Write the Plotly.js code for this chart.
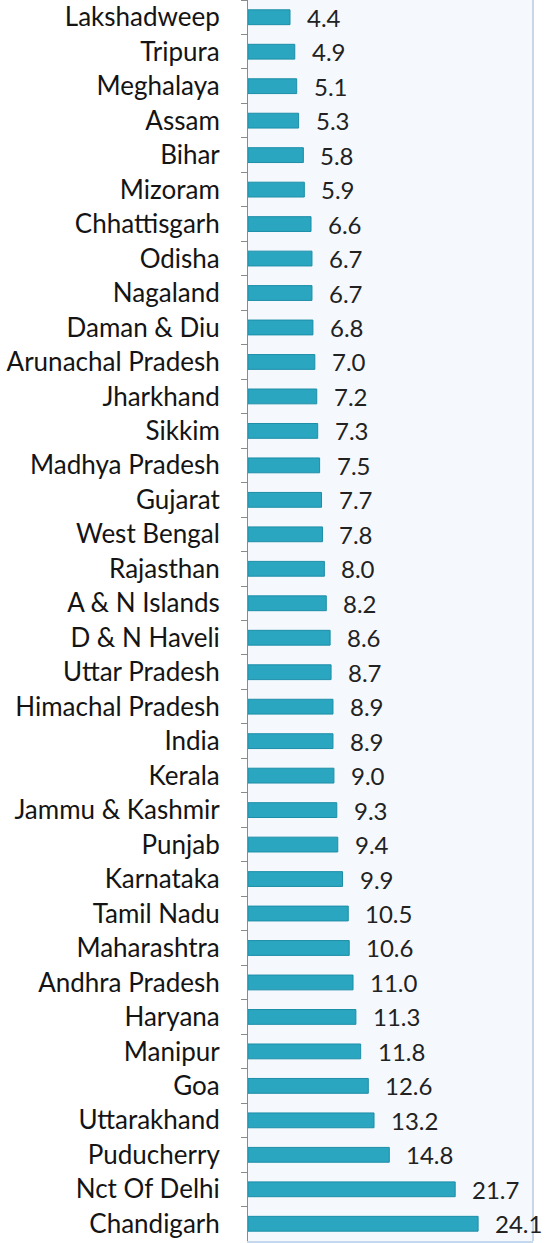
<!DOCTYPE html>
<html>
<head>
<meta charset="utf-8">
<script src="https://cdn.plot.ly/plotly-3.0.1.min.js"></script>
<style>html,body{margin:0;padding:0;background:#fff}#chart{width:546px;height:1243px}</style>
</head>
<body>
<div id="chart"></div>
<script>
const states = ["Lakshadweep","Tripura","Meghalaya","Assam","Bihar","Mizoram","Chhattisgarh","Odisha","Nagaland","Daman & Diu","Arunachal Pradesh","Jharkhand","Sikkim","Madhya Pradesh","Gujarat","West Bengal","Rajasthan","A & N Islands","D & N Haveli","Uttar Pradesh","Himachal Pradesh","India","Kerala","Jammu & Kashmir","Punjab","Karnataka","Tamil Nadu","Maharashtra","Andhra Pradesh","Haryana","Manipur","Goa","Uttarakhand","Puducherry","Nct Of Delhi","Chandigarh"];
const values = [4.4,4.9,5.1,5.3,5.8,5.9,6.6,6.7,6.7,6.8,7.0,7.2,7.3,7.5,7.7,7.8,8.0,8.2,8.6,8.7,8.9,8.9,9.0,9.3,9.4,9.9,10.5,10.6,11.0,11.3,11.8,12.6,13.2,14.8,21.7,24.1];

const font = "Lato, 'Open Sans', sans-serif";
const trace = {
  type: "bar", orientation: "h",
  x: values, y: states,
  marker: {color: "#2aa6c0", line: {color: "#1e8ea8", width: 1}},
  hoverinfo: "none"
};
const annotations = values.map((v, i) => ({
  x: v, y: states[i], xref: "x", yref: "y",
  text: v.toFixed(1), showarrow: false,
  xanchor: "left", xshift: 15,
  font: {family: font, size: 24, color: "#222222"}
}));
const layout = {
  width: 546, height: 1243,
  margin: {l: 248, r: 13, t: 0, b: 2},
  paper_bgcolor: "#ffffff", plot_bgcolor: "#f5f9fd",
  showlegend: false, bargap: 0.57,
  xaxis: {range: [0, 29.85], showgrid: false, zeroline: false, showticklabels: false, ticks: "",
          showline: true, linecolor: "#c5d9ee", linewidth: 2, fixedrange: true},
  yaxis: {type: "category", autorange: "reversed", showgrid: false, zeroline: false,
          showline: true, linecolor: "#8a8a8a", linewidth: 1,
          ticks: "outside", tickson: "boundaries", ticklen: 6, tickcolor: "#8a8a8a",
          ticklabelstandoff: 22,
          tickfont: {family: font, size: 26, color: "#141414"}, fixedrange: true},
  shapes: [{type: "line", xref: "paper", yref: "paper", x0: 1, x1: 1, y0: 0, y1: 1,
            line: {color: "#c8d6e8", width: 2}}],
  annotations: annotations
};
Plotly.newPlot("chart", [trace], layout, {displayModeBar: false, staticPlot: true});
</script>
</body>
</html>
